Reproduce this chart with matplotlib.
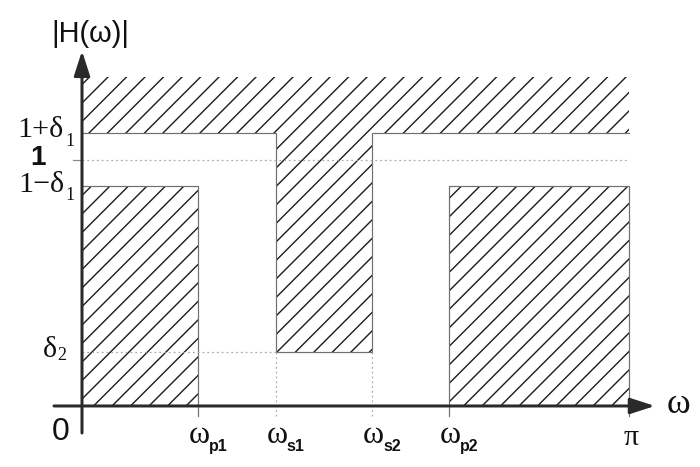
import numpy as np
import matplotlib
matplotlib.use("Agg")
import matplotlib.pyplot as plt
from matplotlib.patches import Polygon

DPI = 111
def fs(px):
    return px * 72.0 / DPI

plt.rcParams['hatch.linewidth'] = 0.9
plt.rcParams['hatch.color'] = '#1a1a1a'

# ---- data (band edges) ----
PI = np.pi
w_p1, w_s1, w_s2, w_p2 = 0.666, 1.114, 1.666, 2.108
delta1 = 0.108
delta2 = 0.22
top_level = 1.337
x_ticks = [w_p1, w_s1, w_s2, w_p2, PI]
x_subs = ['p1', 's1', 's2', 'p2']

# axis extents
x_left_ext, x_tip = -0.161, 3.291
y_bot_ext, y_tip = -0.11, 1.443
tick_len = 0.04

fig = plt.figure(figsize=(700 / DPI, 468 / DPI), dpi=DPI)
ax = fig.add_axes([0, 0, 1, 1])
ax.set_xlim(-0.471, 3.550)
ax.set_ylim(-0.248, 1.654)
ax.axis('off')

up = 1 + delta1
lo = 1 - delta1

# hatched forbidden regions
hc = '#1a1a1a'
top_poly = Polygon(list(zip([0, PI, PI, w_s2, w_s2, w_s1, w_s1, 0],
                            [top_level, top_level, up, up, delta2, delta2, up, up])),
                   closed=True, facecolor='white', edgecolor=hc, lw=0,
                   hatch='//', zorder=1)
left_poly = Polygon(list(zip([0, w_p1, w_p1, 0], [0, 0, lo, lo])), closed=True,
                    facecolor='white', edgecolor=hc, lw=0, hatch='//', zorder=1)
right_poly = Polygon(list(zip([w_p2, PI, PI, w_p2], [0, 0, lo, lo])), closed=True,
                     facecolor='white', edgecolor=hc, lw=0, hatch='//', zorder=1)
for p in (top_poly, left_poly, right_poly):
    ax.add_patch(p)

edge_c = '#707070'
elw = fs(1.2)
ax.plot([0, w_s1, w_s1, w_s2, w_s2, PI], [up, up, delta2, delta2, up, up],
        color=edge_c, lw=elw, zorder=2, solid_joinstyle='miter')
ax.plot([0, w_p1, w_p1], [lo, lo, -tick_len], color=edge_c, lw=elw, zorder=2)
ax.plot([w_p2, w_p2, PI, PI], [-tick_len, lo, lo, -tick_len], color=edge_c, lw=elw, zorder=2)

dot_c = '#a8a8a8'
dls = (0, (1.5, 2.5))
ax.plot([0, PI], [1, 1], color=dot_c, lw=elw, ls=dls, zorder=2)
ax.plot([0, w_s1], [delta2, delta2], color=dot_c, lw=elw, ls=dls, zorder=2)
for xv in (w_s1, w_s2):
    ax.plot([xv, xv], [delta2, -tick_len], color=dot_c, lw=elw, ls=dls, zorder=2)
# tick at 1 on the y axis
ax.plot([-0.052, 0], [1, 1], color='#888888', lw=elw, zorder=2)

# axes with arrows
axis_c = '#2a2a2a'
alw = fs(3)
arrow_style = '-|>,head_length=1.3,head_width=0.42'
ax.annotate('', xy=(0, y_tip), xytext=(0, y_bot_ext),
            arrowprops=dict(arrowstyle=arrow_style, lw=alw, color=axis_c,
                            shrinkA=0, shrinkB=0, mutation_scale=fs(16)), zorder=4)
ax.annotate('', xy=(x_tip, 0), xytext=(x_left_ext, 0),
            arrowprops=dict(arrowstyle=arrow_style, lw=alw, color=axis_c,
                            shrinkA=0, shrinkB=0, mutation_scale=fs(16)), zorder=4)

serif = 'Liberation Serif'
sans = 'Liberation Sans'
tc = '#111111'

def lab(txt, xy, off, size_px, family, ha, weight='normal'):
    ax.annotate(txt, xy=xy, xytext=off, textcoords='offset pixels',
                fontsize=fs(size_px), family=family, ha=ha, va='baseline',
                weight=weight, color=tc, annotation_clip=False)

# y label
lab('|H(ω)|', (0, y_tip), (8, 10), 29, sans, 'center')
# x axis label
lab('ω', (x_tip, 0), (12, -6), 36, serif, 'left')

# y tick labels
lab('1+δ', (0, up), (-18, -3), 30, serif, 'right')
lab('1', (0, up), (-17, -12), 18, serif, 'left')
lab('1', (0, 1), (-44, -4), 28, sans, 'center', weight='bold')
lab('1\u2212δ', (0, lo), (-18, -5), 30, serif, 'right')
lab('1', (0, lo), (-17, -13), 18, serif, 'left')
lab('δ', (0, delta2), (-25, -4), 30, serif, 'right')
lab('2', (0, delta2), (-25, -7), 18, serif, 'left')
lab('0', (0, 0), (-21, -33), 32, sans, 'center')

# x tick labels
for xv, sub in zip(x_ticks[:4], x_subs):
    lab('ω', (xv, 0), (1, -36), 32, serif, 'center')
    lab(sub, (xv, 0), (11, -44), 16, sans, 'left', weight='bold')
lab('π', (PI, 0), (2, -38), 30, serif, 'center')

fig.savefig('out.png', dpi=DPI, facecolor='white')
